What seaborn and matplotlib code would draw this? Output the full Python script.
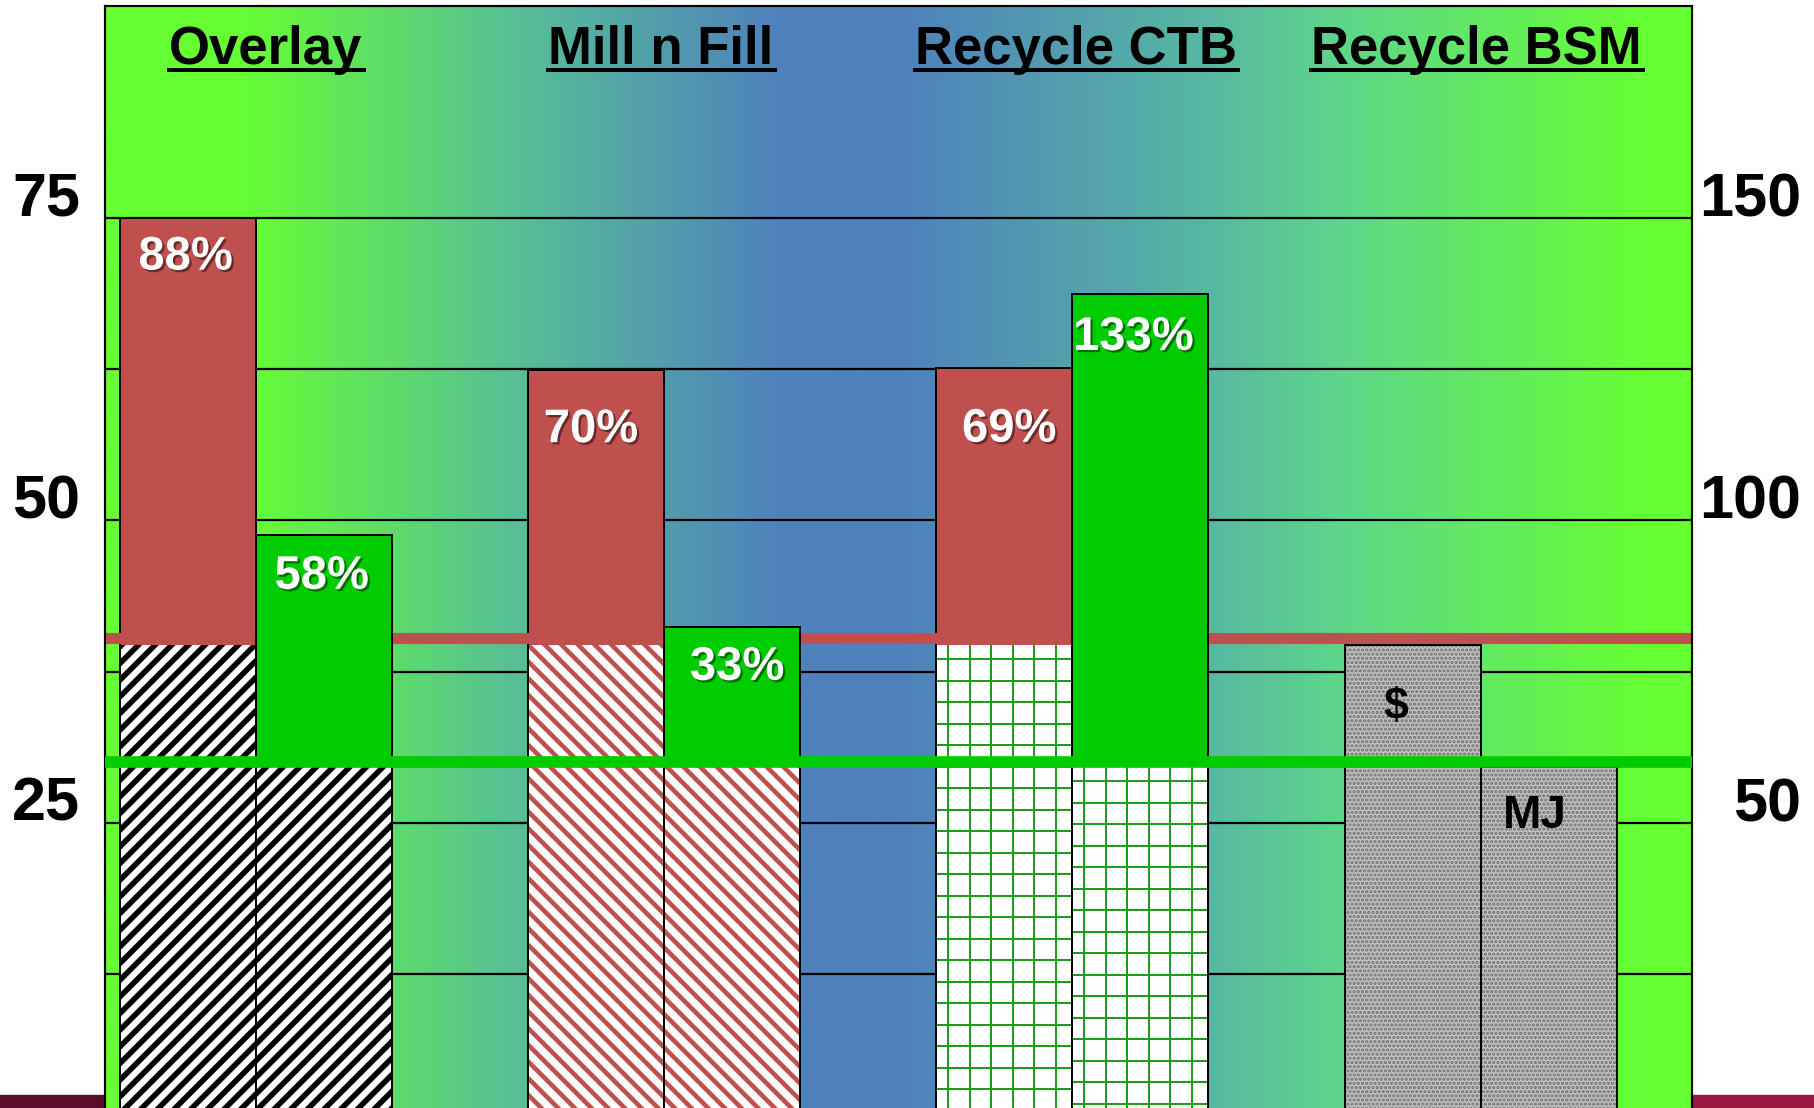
import numpy as np
import pandas as pd
import matplotlib
matplotlib.use("Agg")
import matplotlib.pyplot as plt
import seaborn as sns
from matplotlib import patheffects as pe
from matplotlib.transforms import ScaledTranslation, IdentityTransform, blended_transform_factory
from matplotlib.lines import Line2D
from matplotlib.patches import Rectangle
from matplotlib.collections import LineCollection
from matplotlib.colors import to_rgb

# ---------------- data ----------------
categories = ["Overlay", "Mill n Fill", "Recycle CTB", "Recycle BSM"]
cost_values = [75.0, 62.4, 62.6, 39.7]        # $  (left axis)
energy_values = [97.6, 82.4, 137.4, 59.2]     # MJ (right axis)
cost_baseline = 39.7                          # BSM $ level (patterned part)
energy_baseline = 59.2                        # BSM MJ level (patterned part)
cost_reference = 40.3                         # red reference line
energy_reference = 60.1                       # green reference line
cost_labels = ["88%", "70%", "69%", "$"]
energy_labels = ["58%", "33%", "133%", "MJ"]
left_ticks = [25, 50, 75]
left_tick_labels = ["25", "50", "75"]
right_ticks = [50, 100, 150]
right_tick_labels = ["50", "100", "150"]
grid_levels = [12.5, 25, 37.5, 50, 62.5, 75]
measures = ["cost", "energy"]

# ---------------- style ----------------
sns.set_theme(style="white")
plt.rcParams["font.family"] = ["Liberation Sans", "DejaVu Sans"]
plt.rcParams["font.weight"] = "bold"
plt.rcParams["text.color"] = "black"
plt.rcParams["ytick.color"] = "black"
plt.rcParams["hatch.linewidth"] = 4.0

RED = "#C0504D"
GREEN = "#00CC00"
GRIDGREEN = "#169C16"
STONE = "#C2C2C2"

W, H, DPI = 1815, 1108, 100
fig = plt.figure(figsize=(W / DPI, H / DPI), dpi=DPI, facecolor="white")
ax_l, ax_r, ax_t = 105 / W, 1692.5 / W, 1 - 6 / H
ax = fig.add_axes([ax_l, 0, ax_r - ax_l, ax_t])
ax2 = ax.twinx()

# background horizontal gradient
stops = [(0.0, "#66FF33"), (0.085, "#66FF33"), (0.26, "#57BE98"), (0.42, "#4F83BC"),
         (0.50, "#4F81BD"), (0.695, "#57B8A2"), (0.78, "#5ED68A"), (0.97, "#66FF33"),
         (1.0, "#66FF33")]
xs = np.linspace(0, 1, 900)
rgb = np.array([to_rgb(c) for _, c in stops])
pos = [p for p, _ in stops]
grad = np.stack([np.interp(xs, pos, rgb[:, k]) for k in range(3)], axis=-1)[None, :, :]
ax.imshow(grad, extent=[0, 1, 0, 1], transform=ax.transAxes, aspect="auto",
          zorder=0, interpolation="bilinear")

for g in grid_levels:
    ax.axhline(g, color="black", lw=1.6, zorder=0.6)

df_cost = pd.DataFrame({"category": categories, "measure": "cost",
                        "value": cost_values, "base": [cost_baseline] * len(categories)})
df_energy = pd.DataFrame({"category": categories, "measure": "energy",
                          "value": energy_values, "base": [energy_baseline] * len(categories)})

bar_kw = dict(x="category", hue="measure", hue_order=measures, order=categories,
              width=2 / 3, errorbar=None, legend=False, dodge=True)

# (hatch, hatch colour, hatch width, face) ; CTB grid is drawn separately
patterns = [("//", "black", 4.0, "white"),
            ("\\\\", RED, 3.3, "white"),
            ("", GRIDGREEN, 1.3, "white"),
            ("....", "#707070", 1.6, STONE)]


def set_hlw(p, lw):
    if hasattr(p, "set_hatch_linewidth"):
        p.set_hatch_linewidth(lw)


def new_bars(axis, before):
    bars = [p for p in axis.patches if id(p) not in before]
    bars.sort(key=lambda p: p.get_x())
    return bars


def grid_fill(axis, patch, step_px=21.5, lw=1.4):
    """Square grid texture (like the CTB fill) clipped to a bar."""
    inv = axis.transData.inverted()
    x0, y0 = patch.get_x(), patch.get_y()
    x1, y1 = x0 + patch.get_width(), y0 + patch.get_height()
    (px0, py0) = axis.transData.transform((x0, max(y0, axis.get_ylim()[0])))
    (px1, py1) = axis.transData.transform((x1, y1))
    segs = []
    for xp in np.arange(px0 + 12, px1, step_px):
        segs.append([(xp, py0 - 5), (xp, py1 + 5)])
    for yp in np.arange(py1 - 14, py0 - 5, -step_px):
        segs.append([(px0 - 5, yp), (px1 + 5, yp)])
    segs = [[tuple(inv.transform(pt)) for pt in s] for s in segs]
    lc = LineCollection(segs, colors=GRIDGREEN, linewidths=lw, zorder=2.3)
    axis.add_collection(lc, autolim=False)
    lc.set_clip_path(patch)


def draw_series(axis, df, top_color):
    before = {id(p) for p in axis.patches}
    sns.barplot(data=df, y="value", ax=axis, color=top_color, zorder=2, **bar_kw)
    tops = new_bars(axis, before)
    for i, p in enumerate(tops):
        p.set_facecolor(top_color if i < 3 else STONE)
        p.set_linewidth(0)
        p.set_zorder(2)

    before = {id(p) for p in axis.patches}
    sns.barplot(data=df, y="base", ax=axis, color="white", zorder=2.2, **bar_kw)
    bases = new_bars(axis, before)
    for p, (h, hc, lw, face) in zip(bases, patterns):
        p.set_facecolor(face)
        p.set_edgecolor(hc)
        if h:
            p.set_hatch(h)
        p.set_linewidth(0)
        set_hlw(p, lw)
        p.set_zorder(2.2)

    before = {id(p) for p in axis.patches}
    sns.barplot(data=df, y="value", ax=axis, color="white", zorder=2.4, **bar_kw)
    outl = new_bars(axis, before)
    for p in outl:
        p.set_facecolor("none")
        p.set_edgecolor("black")
        p.set_linewidth(1.4)
        p.set_zorder(2.4)
    return tops, bases


cost_bars, cost_bases = draw_series(ax, df_cost, RED)
ax.axhline(cost_reference, color=RED, lw=8.0, zorder=3, solid_capstyle="butt")

energy_bars, energy_bases = draw_series(ax2, df_energy, GREEN)
ax2.axhline(energy_reference, color=GREEN, lw=8.4, zorder=3, solid_capstyle="butt")

# limits
ax.set_xlim(-0.3694, 3.519)
ax.set_ylim(1.46, 92.48)
ax2.set_ylim(2.92, 184.96)

# CTB grid texture (needs final limits)
grid_fill(ax, cost_bases[2])
grid_fill(ax2, energy_bases[2])

for a in (ax, ax2):
    a.set_xlabel("")
    a.set_ylabel("")
    a.set_xticks([])
    for s in ("left", "top", "right"):
        a.spines[s].set_visible(True)
        a.spines[s].set_color("black")
        a.spines[s].set_linewidth(1.5)
    a.spines["bottom"].set_visible(False)

# ticks
ax.set_yticks(left_ticks, labels=left_tick_labels)
ax.tick_params(axis="y", length=0, pad=18, labelsize=44, labelcolor="black")
for lab in ax.get_yticklabels():
    lab.set_fontweight("bold")
    lab.set_transform(lab.get_transform() + ScaledTranslation(0, 0.24, fig.dpi_scale_trans))

ax2.set_yticks(right_ticks, labels=right_tick_labels)
ax2.tick_params(axis="y", length=0, pad=0, labelsize=44, labelcolor="black")
for lab in ax2.get_yticklabels():
    lab.set_fontweight("bold")
    lab.set_horizontalalignment("right")
    lab.set_transform(lab.get_transform() + ScaledTranslation(1.09, 0.235, fig.dpi_scale_trans))

# value labels
shadow = [pe.SimplePatchShadow(offset=(1.6, -1.6), shadow_rgbFace="black", alpha=0.45), pe.Normal()]
cost_off = [(-2, -40), (-5, -60), (5, -62), (-17, -62)]
energy_off = [(-2, -42), (5, -41), (-7, -44), (-14, -49)]
for i, (p, txt) in enumerate(zip(cost_bars, cost_labels)):
    cx = p.get_x() + p.get_width() / 2
    dx, dy = cost_off[i]
    bsm = i == 3
    ax2.annotate(txt, xy=(cx, p.get_height()), xycoords=ax.transData,
                 xytext=(dx * 0.72, dy * 0.72), textcoords="offset points",
                 ha="center", va="center", fontsize=32 if bsm else 34, fontweight="bold",
                 color="black" if bsm else "white",
                 path_effects=None if bsm else shadow, zorder=10)
for i, (p, txt) in enumerate(zip(energy_bars, energy_labels)):
    cx = p.get_x() + p.get_width() / 2
    dx, dy = energy_off[i]
    bsm = i == 3
    ax2.annotate(txt, xy=(cx, p.get_height()), xycoords="data",
                 xytext=(dx * 0.72, dy * 0.72), textcoords="offset points",
                 ha="center", va="center", fontsize=33 if bsm else 34, fontweight="bold",
                 color="black" if bsm else "white",
                 path_effects=None if bsm else shadow, zorder=10)

# category titles (underlined)
ttrans = blended_transform_factory(ax.transData, ax.transAxes)
title_dx = [10, -3, 4, -4]
titles = []
for i, cat in enumerate(categories):
    tr = ttrans + ScaledTranslation(title_dx[i] / DPI, 0, fig.dpi_scale_trans)
    t = ax2.text(i, (H - 64) / (H - 6), cat, transform=tr, ha="center", va="baseline",
                 fontsize=38, fontweight="bold", color="black", zorder=10)
    titles.append(t)

# slide background strips at the bottom
fig.add_artist(Rectangle((0, 0), ax_l, 13 / H, transform=fig.transFigure,
                         color="#5A0E2C", zorder=-5))
fig.add_artist(Rectangle((ax_r, 0), 1 - ax_r, 13 / H, transform=fig.transFigure,
                         color="#98193F", zorder=-5))

fig.canvas.draw()
renderer = fig.canvas.get_renderer()
for t in titles:
    bb = t.get_window_extent(renderer)
    fig.add_artist(Line2D([bb.x0 - 2, bb.x1 + 3], [H - 70, H - 70], transform=IdentityTransform(),
                          color="black", lw=2.9, solid_capstyle="butt", zorder=20))

fig.savefig("out.png", dpi=DPI, facecolor="white")
